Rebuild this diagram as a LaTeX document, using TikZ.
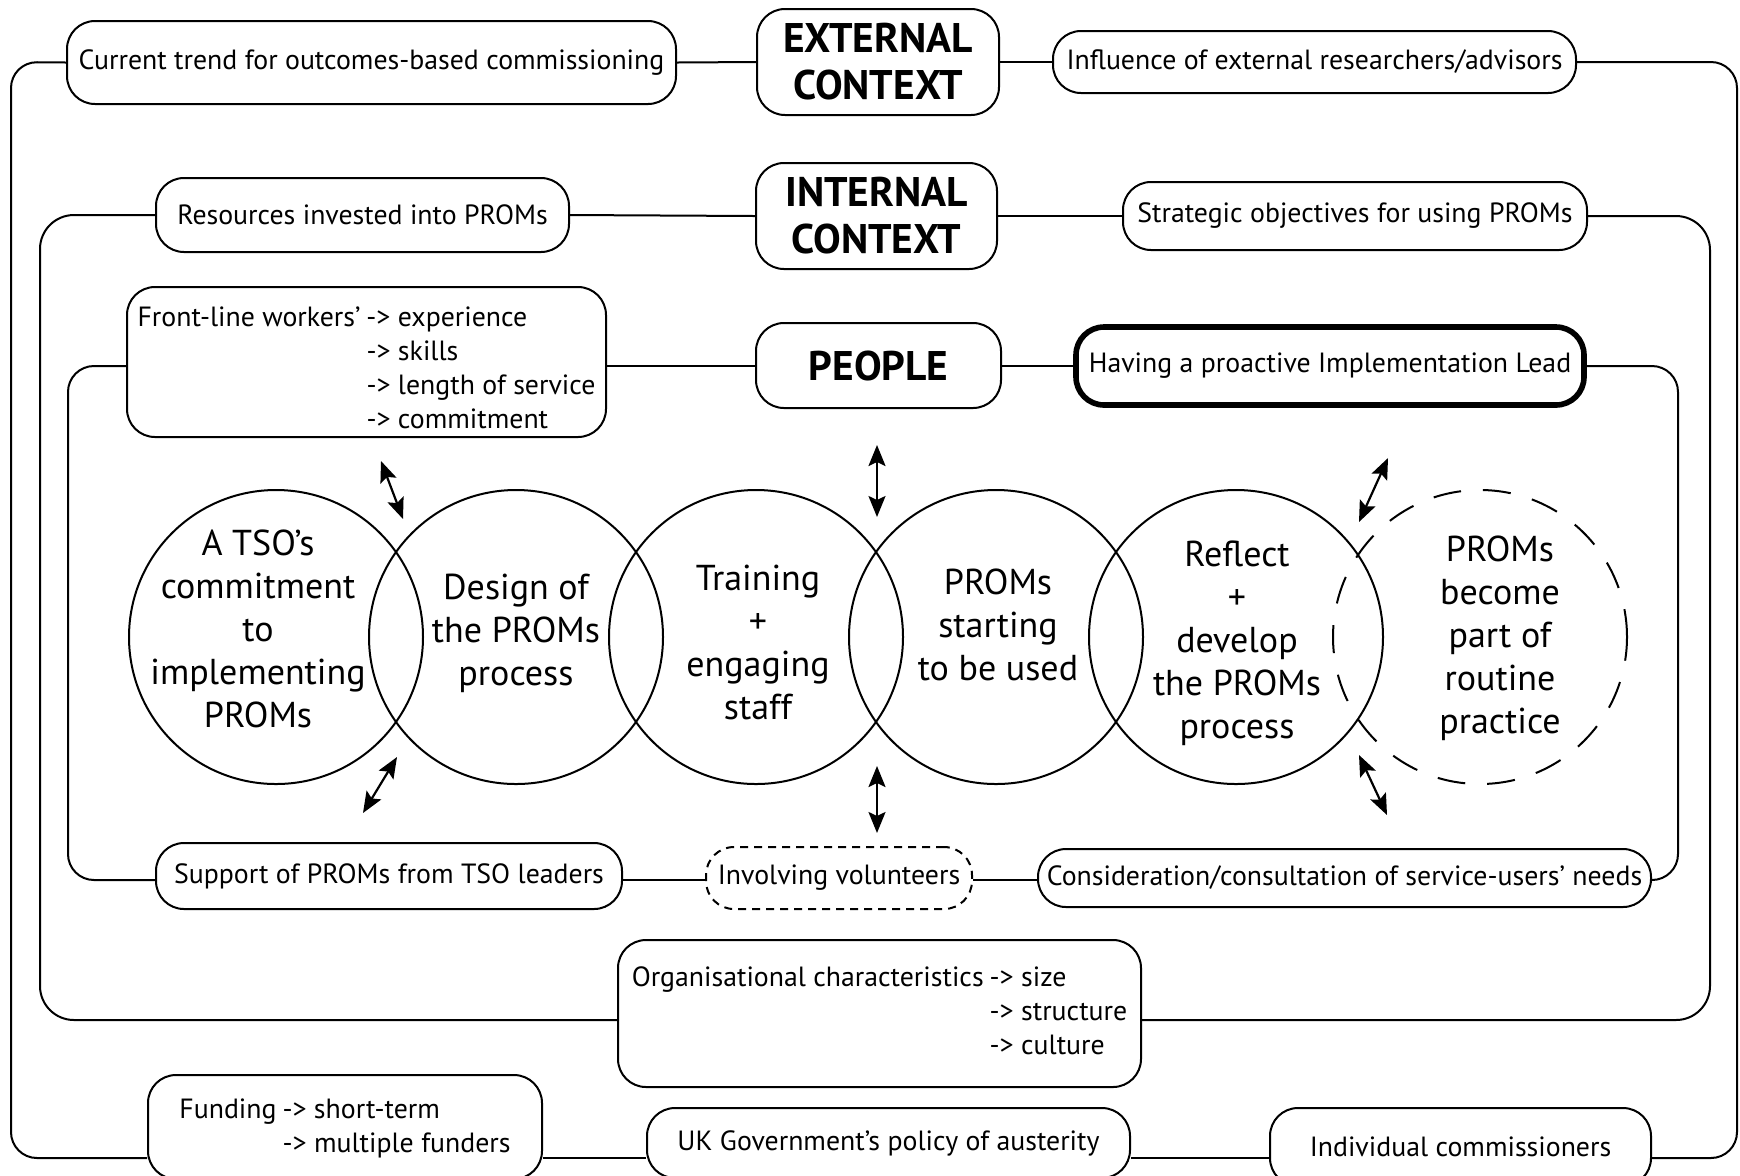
\documentclass[tikz,border=0pt]{standalone}
\usepackage{fontspec}
\setmainfont{PT Sans}
\usetikzlibrary{arrows.meta}

\newcommand\boxfont{\fontsize{13.9}{17}\selectfont}
\newcommand\circfont{\fontsize{18}{21.5}\selectfont}
\newcommand\headfont{\fontsize{20.7}{23.5}\selectfont\bfseries}

\begin{document}
\begin{tikzpicture}[x=0.5pt,y=-0.5pt,
  box/.style={draw, line width=1pt, rounded corners=14pt, inner sep=0pt,
    align=center, font=\boxfont},
  headbox/.style={box, font=\headfont},
  leadbox/.style={box, line width=2.8pt},
  volbox/.style={box, dash pattern=on 4pt off 3pt},
  boxtext/.style={inner sep=0pt, align=left, font=\boxfont},
  circ/.style={draw, circle, line width=1pt, minimum size=147pt, inner sep=0pt},
  dashcirc/.style={circ, dash pattern=on 14pt off 11pt},
  ctext/.style={align=center, font=\circfont, inner sep=0pt},
  link/.style={line width=1pt, rounded corners=13pt},
  tip/.style={Stealth[length=10.5pt,width=8.5pt,inset=2pt]},
  twoway/.style={line width=1.1pt, {Stealth[length=10.5pt,width=8.5pt,inset=2pt]}-{Stealth[length=10.5pt,width=8.5pt,inset=2pt]}}
]
\useasboundingbox (0,0) rectangle (1740,1175);
\fill[white] (0,0) rectangle (1740,1175);
\clip (0,0) rectangle (1740,1175);

% ---------- external context ----------
\node[headbox, minimum width=121pt, minimum height=53pt] (ext) at (878,62) {EXTERNAL\\CONTEXT};
\node[box, minimum width=304.5pt, minimum height=41.5pt] (trend) at (371.5,62.5) {Current trend for outcomes-based commissioning};
\node[box, minimum width=261.5pt, minimum height=31pt] (infl) at (1314.5,62) {Influence of external researchers/advisors};
\node[box, minimum width=197pt, minimum height=52pt] (fund) at (345,1127) {};
\node[boxtext] (fundtxt) at ([yshift=-1pt]fund.center) {%
  \begin{tabular}{@{}l@{\hspace{3pt}}l@{}}Funding & -> short-term\\ & -> multiple funders\end{tabular}};
\node[box, minimum width=241.5pt, minimum height=35pt] (ukgov) at (888.5,1143) {UK Government’s policy of austerity};
\node[box, minimum width=190.5pt, minimum height=39pt] (indiv) at (1460.5,1147) {Individual commissioners};

\coordinate (eTL) at (11,62);
\coordinate (eBL) at (11,1158);
\coordinate (eBR) at (1737,1158);
\coordinate (eTR) at (1737,62);

\draw[link] (trend.east) -- (ext.west);
\draw[link] (ext.east) -- (infl.west);
\draw[link] (trend.west) -- (eTL) -- (eBL) -- (fund.west |- eBL);
\draw[link] (fund.east |- eBL) -- (ukgov.west |- eBL);
\draw[link] (ukgov.east |- eBL) -- (indiv.west |- eBL);
\draw[link] (indiv.east |- eBR) -- (eBR) -- (eTR) -- (infl.east);

% ---------- internal context ----------
\node[headbox, minimum width=120.5pt, minimum height=53pt] (int) at (876.5,216) {INTERNAL\\CONTEXT};
\node[box, minimum width=206.5pt, minimum height=37pt] (res) at (362.5,215) {Resources invested into PROMs};
\node[box, minimum width=232pt, minimum height=34pt] (strat) at (1355,216) {Strategic objectives for using PROMs};
\node[box, minimum width=261.5pt, minimum height=73.5pt] (org) at (879.5,1013.5) {};
\node[boxtext] (orgtxt) at (org.center) {%
  \begin{tabular}{@{}l@{\hspace{3pt}}l@{}}Organisational characteristics & -> size\\ & -> structure\\ & -> culture\end{tabular}};

\coordinate (iTL) at (40,215);
\coordinate (iBL) at (40,1020);
\coordinate (iBR) at (1710,1020);
\coordinate (iTR) at (1710,216);

\draw[link] (res.east) -- (int.west);
\draw[link] (int.east) -- (strat.west);
\draw[link, rounded corners=17pt] (res.west) -- (iTL) -- (iBL) -- (org.west |- iBL);
\draw[link, rounded corners=17pt] (org.east |- iBR) -- (iBR) -- (iTR) -- (strat.east);

% ---------- people ----------
\node[headbox, minimum width=122.5pt, minimum height=42.5pt] (people) at (878.5,365.5) {PEOPLE};
\node[box, minimum width=239.5pt, minimum height=75pt] (front) at (366.5,362) {};
\node[boxtext] (fronttxt) at ([yshift=-4.5pt]front.center) {%
  \begin{tabular}{@{}l@{\hspace{3pt}}l@{}}Front-line workers’ & -> experience\\ & -> skills\\ & -> length of service\\ & -> commitment\end{tabular}};
\node[leadbox, minimum width=254pt, minimum height=39pt] (lead) at (1330,366) {Having a proactive Implementation Lead};
\node[box, minimum width=233pt, minimum height=33pt] (support) at (389,876) {Support of PROMs from TSO leaders};
\node[volbox, minimum width=133pt, minimum height=31pt] (vol) at (839,878) {Involving volunteers};
\node[box, minimum width=306.5pt, minimum height=29pt] (cons) at (1344.5,878) {Consideration/consultation of service-users’ needs};

\coordinate (pTL) at (68,366);
\coordinate (pBL) at (68,880);
\coordinate (pBR) at (1678,880);
\coordinate (pTR) at (1678,366);

\draw[link] (front.east |- pTL) -- (people.west |- pTL);
\draw[link] (people.east |- pTR) -- (lead.west |- pTR);
\draw[link] (front.west |- pTL) -- (pTL) -- (pBL) -- (support.west |- pBL);
\draw[link] (support.east |- pBL) -- (vol.west |- pBL);
\draw[link] (vol.east |- pBR) -- (cons.west |- pBR);
\draw[link] (cons.east |- pBR) -- (pBR) -- (pTR) -- (lead.east |- pTR);

% ---------- stages ----------
\node[circ] (c1) at (276,637) {};
\node[circ] (c2) at (516,637) {};
\node[circ] (c3) at (756,637) {};
\node[circ] (c4) at (996,637) {};
\node[circ] (c5) at (1236,637) {};
\node[dashcirc] (c6) at (1480,637) {};

\node[ctext] (t1) at (258,629) {A TSO’s\\commitment\\to\\implementing\\PROMs};
\node[ctext] (t2) at (516,633) {Design of\\the PROMs\\process};
\node[ctext] (t3) at (758,642) {Training\\+\\engaging\\staff};
\node[ctext] (t4) at (998,625) {PROMs\\starting\\to be used};
\node[ctext] (t5) at (1237,643) {Reflect\\+\\develop\\the PROMs\\process};
\node[ctext] (t6) at (1500,638) {PROMs\\become\\part of\\routine\\practice};

% ---------- two-way influences ----------
\coordinate (a1s) at (381,461);  \coordinate (a1e) at (403,519);
\coordinate (a2s) at (397,757);  \coordinate (a2e) at (363,813);
\coordinate (a3s) at (877,445);  \coordinate (a3e) at (877,517);
\coordinate (a4s) at (877,766);  \coordinate (a4e) at (877,833);
\coordinate (a5s) at (1388,458); \coordinate (a5e) at (1359,522);
\coordinate (a6s) at (1359,755); \coordinate (a6e) at (1387,815);

\draw[twoway] (a1s) -- (a1e);
\draw[twoway] (a2s) -- (a2e);
\draw[twoway] (a3s) -- (a3e);
\draw[twoway] (a4s) -- (a4e);
\draw[twoway] (a5s) -- (a5e);
\draw[twoway] (a6s) -- (a6e);
\end{tikzpicture}
\end{document}
